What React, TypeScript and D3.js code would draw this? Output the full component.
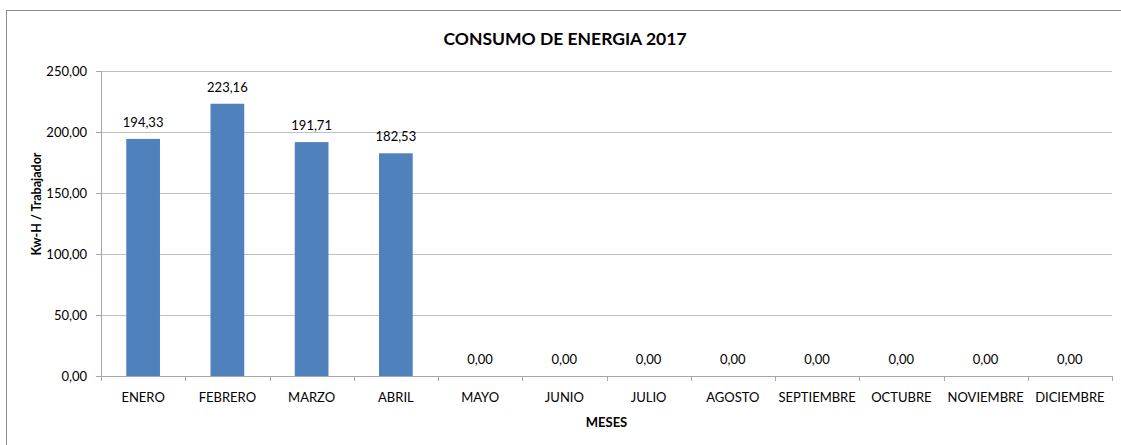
import * as d3 from 'd3';

const MONTHS = ['ENERO', 'FEBRERO', 'MARZO', 'ABRIL', 'MAYO', 'JUNIO', 'JULIO', 'AGOSTO', 'SEPTIEMBRE', 'OCTUBRE', 'NOVIEMBRE', 'DICIEMBRE'];
const CONSUMO = [194.33, 223.16, 191.71, 182.53, 0, 0, 0, 0, 0, 0, 0, 0];
const Y_TICKS = [0, 50, 100, 150, 200, 250];

const W = 1121;
const H = 445;
const PLOT = { left: 101, right: 1112, top: 71, bottom: 376 };
const FONT = 'Lato, "Open Sans", sans-serif';
const BAR_COLOR = '#4f81bd';
const GRID = '#c0c0c0';
const AXIS = '#a6a6a6';

const fmt = (v: number) => v.toFixed(2).replace('.', ',');

export default function App() {
  const x = d3.scaleBand<string>()
    .domain(MONTHS)
    .range([PLOT.left, PLOT.right])
    .paddingInner(0.6)
    .paddingOuter(0.3);
  const band = d3.scaleBand<string>().domain(MONTHS).range([PLOT.left, PLOT.right]);
  const y = d3.scaleLinear().domain([0, 250]).range([PLOT.bottom, PLOT.top]);

  return (
    <svg width={W} height={H} style={{ position: 'absolute', left: 0, top: 0, background: '#fff' }} fontFamily={FONT}>
      <rect x={6.5} y={10.5} width={W} height={H} fill="#fff" stroke="#8c8c8c" strokeWidth={1} />

      <text x={565} y={45} textAnchor="middle" fontSize={17.5} fontWeight="bold" fill="#000">
        CONSUMO DE ENERGIA 2017
      </text>

      {/* grid + y ticks */}
      {Y_TICKS.map(t => (
        <g key={t}>
          {t > 0 && (
            <line x1={PLOT.left} x2={PLOT.right} y1={Math.round(y(t)) + 0.5} y2={Math.round(y(t)) + 0.5} stroke={GRID} />
          )}
          <line x1={PLOT.left - 5} x2={PLOT.left} y1={Math.round(y(t)) + 0.5} y2={Math.round(y(t)) + 0.5} stroke={AXIS} />
          <text x={PLOT.left - 14} y={y(t)} dy="0.35em" textAnchor="end" fontSize={13} fill="#000">
            {fmt(t)}
          </text>
        </g>
      ))}

      {/* bars */}
      {MONTHS.map((m, i) => (
        <g key={m}>
          <rect
            x={x(m)}
            y={y(CONSUMO[i])}
            width={x.bandwidth()}
            height={y(0) - y(CONSUMO[i])}
            fill={BAR_COLOR}
          />
          <text
            x={(x(m) ?? 0) + x.bandwidth() / 2}
            y={y(CONSUMO[i]) - 12}
            textAnchor="middle"
            fontSize={13}
            fill="#000"
          >
            {fmt(CONSUMO[i])}
          </text>
        </g>
      ))}

      {/* axes */}
      <line x1={PLOT.left + 0.5} x2={PLOT.left + 0.5} y1={PLOT.top} y2={PLOT.bottom} stroke={AXIS} />
      <line x1={PLOT.left} x2={PLOT.right} y1={PLOT.bottom + 0.5} y2={PLOT.bottom + 0.5} stroke={AXIS} />
      {[...MONTHS.map(m => band(m) ?? 0), PLOT.right].map((bx, i) => (
        <line key={i} x1={Math.round(bx) + 0.5} x2={Math.round(bx) + 0.5} y1={PLOT.bottom} y2={PLOT.bottom + 5} stroke={AXIS} />
      ))}
      {MONTHS.map(m => (
        <text key={m} x={(band(m) ?? 0) + band.bandwidth() / 2} y={402} textAnchor="middle" fontSize={13} fill="#000">
          {m}
        </text>
      ))}

      <text x={(PLOT.left + PLOT.right) / 2} y={427} textAnchor="middle" fontSize={13} fontWeight="bold" fill="#000">
        MESES
      </text>
      <text transform={`translate(41,204) rotate(-90)`} textAnchor="middle" fontSize={12.5} fontWeight="bold" fill="#000">
        Kw-H / Trabajador
      </text>
    </svg>
  );
}
